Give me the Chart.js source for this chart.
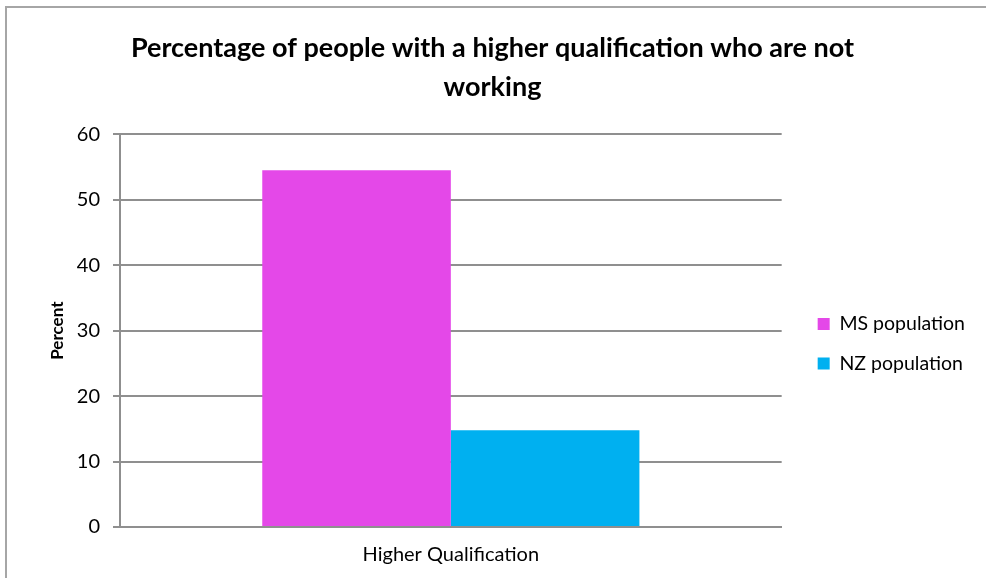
<!DOCTYPE html>
<html>
<head>
<meta charset="utf-8">
<script src="https://cdn.jsdelivr.net/npm/chart.js@4"></script>
<style>
  html, body { margin: 0; padding: 0; background: #fff; }
  #wrap { position: relative; width: 986px; height: 578px; overflow: hidden; }
  #frame { position: absolute; left: 5px; top: 6px; width: 1000px; height: 600px;
           border-left: 2px solid #a6a6a6; border-top: 2px solid #a6a6a6; }
  canvas { position: absolute; left: 0; top: 0; }
</style>
</head>
<body>
<div id="wrap">
  <div id="frame"></div>
  <canvas id="qualChart" width="986" height="578"></canvas>
</div>
<script>
const categories = ['Higher Qualification'];
const msPopulation = [54.5];
const nzPopulation = [14.8];
const yTicks = [0, 10, 20, 30, 40, 50, 60];

const gridGrey = '#8f8f8f';
const fontFamily = 'Lato, "Open Sans", sans-serif';

new Chart(document.getElementById('qualChart'), {
  type: 'bar',
  data: {
    labels: categories,
    datasets: [
      { label: 'MS population', data: msPopulation, backgroundColor: '#e448e8', borderWidth: 0 },
      { label: 'NZ population', data: nzPopulation, backgroundColor: '#00b0f0', borderWidth: 0 }
    ]
  },
  options: {
    responsive: false,
    animation: false,
    layout: { padding: { left: 10, right: 11, top: 0, bottom: 11 } },
    datasets: { bar: { categoryPercentage: 0.57, barPercentage: 1.0 } },
    plugins: {
      title: {
        display: true,
        text: ['Percentage of people with a higher qualification who are not', 'working'],
        color: '#000',
        font: { family: fontFamily, size: 27, weight: 'bold', lineHeight: 1.45 },
        padding: { top: 29, bottom: 27 }
      },
      legend: {
        position: 'right',
        fullSize: false,
        maxWidth: 260,
        title: { display: true, text: '', font: { size: 10, lineHeight: 1 }, padding: { top: 8, bottom: 8 } },
        labels: {
          boxWidth: 12,
          boxHeight: 12,
          padding: 20,
          color: '#000',
          font: { family: fontFamily, size: 19.5 }
        }
      },
      tooltip: { enabled: false }
    },
    scales: {
      x: {
        afterFit: (axis) => { axis.height = 40; },
        grid: { display: false, drawTicks: false },
        border: { display: true, color: gridGrey, width: 2 },
        ticks: { color: '#000', padding: 16, font: { family: fontFamily, size: 20 } }
      },
      y: {
        min: 0,
        max: 60,
        afterBuildTicks: (axis) => { axis.ticks = yTicks.map(v => ({ value: v })); },
        afterFit: (axis) => { axis.width = 110; },
        grid: { color: gridGrey, lineWidth: 2, tickLength: 7 },
        border: { display: true, color: gridGrey, width: 2 },
        ticks: { color: '#000', padding: 13, font: { family: fontFamily, size: 20 } },
        title: {
          display: true,
          text: 'Percent',
          color: '#000',
          font: { family: fontFamily, size: 17, weight: 'bold' },
          padding: { top: 37 }
        }
      },
      // spacer between plot area and legend
      gap: {
        type: 'linear',
        position: 'right',
        grid: { display: false },
        border: { display: false },
        ticks: { display: false },
        afterFit: (axis) => { axis.width = 16; }
      }
    }
  }
});
</script>
</body>
</html>
